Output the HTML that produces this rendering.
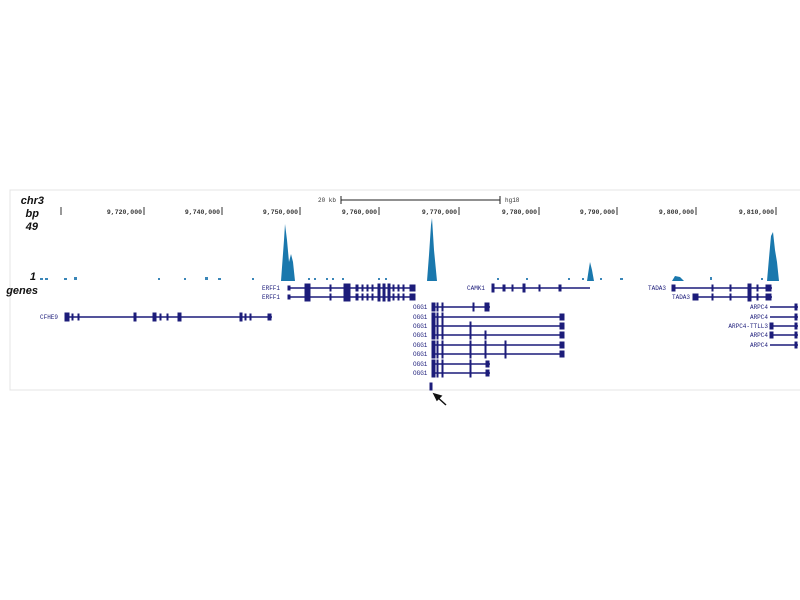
<!DOCTYPE html>
<html><head><style>
html,body{margin:0;padding:0;background:#fff;}
svg{display:block;}
text{font-family:"Liberation Mono",monospace;}
</style></head><body>
<svg width="800" height="600" viewBox="0 0 800 600" xmlns="http://www.w3.org/2000/svg">
<rect x="10" y="190" width="795" height="200" fill="none" stroke="#e4e4e4" stroke-width="1"/>
<g font-style="italic" font-weight="bold" font-size="11" text-anchor="end" fill="#111">
<text x="44" y="204" style="font-family:'Liberation Sans',sans-serif">chr3</text>
<text x="39" y="217" style="font-family:'Liberation Sans',sans-serif">bp</text>
<text x="38" y="230" style="font-family:'Liberation Sans',sans-serif">49</text>
<text x="36" y="280" style="font-family:'Liberation Sans',sans-serif">1</text>
<text x="38" y="294" style="font-family:'Liberation Sans',sans-serif">genes</text>
</g>
<g stroke="#222" stroke-width="1">
<line x1="341" y1="200" x2="500" y2="200"/><line x1="341" y1="196" x2="341" y2="204"/><line x1="500" y1="196" x2="500" y2="204"/>
</g>
<g font-size="6" fill="#333">
<text x="318" y="202">20 kb</text><text x="505" y="202">hg18</text>
</g>
<g font-size="6.5" fill="#333" text-anchor="end" font-weight="bold">
<text x="142" y="214">9,720,000</text><text x="220" y="214">9,740,000</text><text x="298" y="214">9,750,000</text>
<text x="377" y="214">9,760,000</text><text x="457" y="214">9,770,000</text><text x="537" y="214">9,780,000</text>
<text x="615" y="214">9,790,000</text><text x="694" y="214">9,800,000</text><text x="774" y="214">9,810,000</text>
</g>
<g stroke="#333" stroke-width="1">
<line x1="61" y1="207" x2="61" y2="215"/><line x1="144" y1="207" x2="144" y2="215"/><line x1="222" y1="207" x2="222" y2="215"/><line x1="300" y1="207" x2="300" y2="215"/><line x1="379" y1="207" x2="379" y2="215"/><line x1="459" y1="207" x2="459" y2="215"/><line x1="539" y1="207" x2="539" y2="215"/><line x1="617" y1="207" x2="617" y2="215"/><line x1="696" y1="207" x2="696" y2="215"/><line x1="776" y1="207" x2="776" y2="215"/>
</g>
<g fill="#1a78ad">
<path d="M281,281 L284,240 L285,224 L287,240 L289,262 L291,254 L293,262 L295,281 Z"/>
<path d="M427,281 L429,255 L431,225 L432,218 L434,250 L437,281 Z"/>
<path d="M587,281 L589,268 L590,262 L592,270 L594,281 Z"/>
<path d="M767,281 L769,258 L771,236 L773,232 L775,250 L777,262 L779,281 Z"/>
<path d="M672,281 L675,276 L680,277 L684,281 Z"/>
</g>
<g fill="#3a86b8">
<rect x="40" y="278" width="3" height="2"/><rect x="45" y="278" width="3" height="2"/><rect x="64" y="278" width="3" height="2"/><rect x="74" y="277" width="3" height="3"/><rect x="158" y="278" width="2" height="2"/><rect x="184" y="278" width="2" height="2"/><rect x="205" y="277" width="3" height="3"/><rect x="218" y="278" width="3" height="2"/><rect x="252" y="278" width="2" height="2"/><rect x="308" y="278" width="2" height="2"/><rect x="314" y="278" width="2" height="2"/><rect x="326" y="278" width="2" height="2"/><rect x="332" y="278" width="2" height="2"/><rect x="342" y="278" width="2" height="2"/><rect x="378" y="278" width="2" height="2"/><rect x="385" y="278" width="2" height="2"/><rect x="497" y="278" width="2" height="2"/><rect x="526" y="278" width="2" height="2"/><rect x="568" y="278" width="2" height="2"/><rect x="582" y="278" width="2" height="2"/><rect x="600" y="278" width="2" height="2"/><rect x="620" y="278" width="3" height="2"/><rect x="710" y="277" width="2" height="3"/><rect x="761" y="278" width="2" height="2"/>
</g>
<g stroke="#1c1c7a" fill="#1c1c7a" stroke-width="1.4">
<!-- ERFF1 -->
<line x1="288" y1="288" x2="415" y2="288"/><line x1="288" y1="297" x2="415" y2="297"/>
<g stroke-width="1">
<rect x="288" y="286" width="2" height="4"/><rect x="288" y="295" width="2" height="4"/>
<rect x="305" y="284" width="5" height="8"/><rect x="344" y="284" width="6" height="8"/><rect x="305" y="293" width="5" height="8"/><rect x="344" y="293" width="6" height="8"/>
<rect x="330" y="285" width="1" height="6"/><rect x="330" y="294" width="1" height="6"/>
<rect x="356" y="285" width="2" height="6"/><rect x="356" y="294" width="2" height="6"/>
<rect x="362" y="285" width="1" height="6"/><rect x="362" y="294" width="1" height="6"/>
<rect x="367" y="285" width="1" height="6"/><rect x="367" y="294" width="1" height="6"/>
<rect x="372" y="285" width="1" height="6"/><rect x="372" y="294" width="1" height="6"/>
<rect x="378" y="284" width="2" height="8"/><rect x="378" y="293" width="2" height="8"/>
<rect x="383" y="284" width="2" height="8"/><rect x="383" y="293" width="2" height="8"/>
<rect x="388" y="284" width="2" height="8"/><rect x="388" y="293" width="2" height="8"/>
<rect x="393" y="285" width="1" height="6"/><rect x="393" y="294" width="1" height="6"/>
<rect x="398" y="285" width="1" height="6"/><rect x="398" y="294" width="1" height="6"/>
<rect x="403" y="285" width="1" height="6"/><rect x="403" y="294" width="1" height="6"/>
<rect x="410" y="285" width="5" height="6"/><rect x="410" y="294" width="5" height="6"/>
</g>
<!-- CAMK1 -->
<line x1="492" y1="288" x2="590" y2="288"/>
<g stroke-width="1"><rect x="492" y="284" width="2" height="8"/><rect x="503" y="285" width="2" height="6"/><rect x="512" y="285" width="1" height="6"/><rect x="523" y="284" width="2" height="8"/><rect x="539" y="285" width="1" height="6"/><rect x="559" y="285" width="2" height="6"/></g>
<!-- TADA3 -->
<line x1="672" y1="288" x2="772" y2="288"/><line x1="693" y1="297" x2="772" y2="297"/>
<g stroke-width="1"><rect x="672" y="285" width="3" height="6"/><rect x="693" y="294" width="5" height="6"/><rect x="712" y="285" width="1" height="6"/><rect x="712" y="294" width="1" height="6"/><rect x="730" y="285" width="1" height="6"/><rect x="730" y="294" width="1" height="6"/><rect x="748" y="284" width="3" height="8"/><rect x="748" y="293" width="3" height="8"/><rect x="757" y="285" width="1" height="6"/><rect x="757" y="294" width="1" height="6"/><rect x="766" y="285" width="5" height="6"/><rect x="766" y="294" width="5" height="6"/></g>
<!-- CFHE9 -->
<line x1="65" y1="317" x2="272" y2="317"/>
<g stroke-width="1"><rect x="65" y="313" width="4" height="8"/><rect x="72" y="314" width="1" height="6"/><rect x="78" y="314" width="1" height="6"/><rect x="134" y="313" width="2" height="8"/><rect x="153" y="313" width="3" height="8"/><rect x="160" y="314" width="1" height="6"/><rect x="167" y="314" width="1" height="6"/><rect x="178" y="313" width="3" height="8"/><rect x="240" y="313" width="2" height="8"/><rect x="245" y="314" width="1" height="6"/><rect x="250" y="314" width="1" height="6"/><rect x="268" y="314" width="3" height="6"/></g>
<!-- OGG1 -->
<line x1="432" y1="307" x2="490" y2="307"/><line x1="432" y1="317" x2="564" y2="317"/><line x1="432" y1="326" x2="564" y2="326"/><line x1="432" y1="335" x2="564" y2="335"/><line x1="432" y1="345" x2="564" y2="345"/><line x1="432" y1="354" x2="564" y2="354"/><line x1="432" y1="364" x2="490" y2="364"/><line x1="432" y1="373" x2="490" y2="373"/>
<g stroke-width="1">
<rect x="432" y="303" width="3" height="8"/><rect x="432" y="313" width="3" height="8"/><rect x="432" y="322" width="3" height="8"/><rect x="432" y="331" width="3" height="8"/><rect x="432" y="341" width="3" height="8"/><rect x="432" y="350" width="3" height="8"/><rect x="432" y="360" width="3" height="8"/><rect x="432" y="369" width="3" height="8"/>
<rect x="437" y="303" width="1" height="8"/><rect x="437" y="313" width="1" height="8"/><rect x="437" y="322" width="1" height="8"/><rect x="437" y="331" width="1" height="8"/><rect x="437" y="341" width="1" height="8"/><rect x="437" y="350" width="1" height="8"/><rect x="437" y="360" width="1" height="8"/><rect x="437" y="369" width="1" height="8"/>
<rect x="442" y="303" width="1" height="8"/><rect x="442" y="313" width="1" height="8"/><rect x="442" y="322" width="1" height="8"/><rect x="442" y="331" width="1" height="8"/><rect x="442" y="341" width="1" height="8"/><rect x="442" y="350" width="1" height="8"/><rect x="442" y="360" width="1" height="8"/><rect x="442" y="369" width="1" height="8"/>
<rect x="473" y="303" width="1" height="8"/>
<rect x="485" y="303" width="4" height="8"/><rect x="560" y="314" width="4" height="6"/><rect x="560" y="323" width="4" height="6"/><rect x="560" y="332" width="4" height="6"/><rect x="560" y="342" width="4" height="6"/><rect x="560" y="351" width="4" height="6"/><rect x="486" y="361" width="3" height="6"/><rect x="486" y="370" width="3" height="6"/>
<rect x="470" y="322" width="1" height="8"/><rect x="470" y="331" width="1" height="8"/><rect x="470" y="341" width="1" height="8"/><rect x="470" y="350" width="1" height="8"/><rect x="470" y="360" width="1" height="8"/><rect x="470" y="369" width="1" height="8"/>
<rect x="485" y="331" width="1" height="8"/><rect x="485" y="341" width="1" height="8"/><rect x="485" y="350" width="1" height="8"/>
<rect x="505" y="341" width="1" height="8"/><rect x="505" y="350" width="1" height="8"/>
</g>
<!-- ARPC4 -->
<line x1="770" y1="307" x2="798" y2="307"/><line x1="770" y1="317" x2="798" y2="317"/><line x1="770" y1="326" x2="798" y2="326"/><line x1="770" y1="335" x2="798" y2="335"/><line x1="770" y1="345" x2="798" y2="345"/>
<g stroke-width="1"><rect x="770" y="323" width="3" height="6"/><rect x="770" y="332" width="3" height="6"/>
<rect x="795" y="304" width="2" height="6"/><rect x="795" y="314" width="2" height="6"/><rect x="795" y="323" width="2" height="6"/><rect x="795" y="332" width="2" height="6"/><rect x="795" y="342" width="2" height="6"/></g>
<rect x="430" y="383" width="2" height="7" stroke-width="1"/>
</g>
<g stroke="#111" stroke-width="1.5" fill="#111">
<line x1="446" y1="405" x2="436" y2="396"/><path d="M434,394 L441,396 L437,400 Z"/>
</g>
<g font-size="6" fill="#1c1c7a">
<text x="262" y="290">ERFF1</text><text x="262" y="299">ERFF1</text>
<text x="467" y="290">CAMK1</text><text x="648" y="290">TADA3</text><text x="672" y="299">TADA3</text>
<text x="40" y="319">CFHE9</text>
<text x="413" y="309">OGG1</text><text x="413" y="319">OGG1</text><text x="413" y="328">OGG1</text><text x="413" y="337">OGG1</text><text x="413" y="347">OGG1</text><text x="413" y="356">OGG1</text><text x="413" y="366">OGG1</text><text x="413" y="375">OGG1</text>
<g text-anchor="end"><text x="768" y="309">ARPC4</text><text x="768" y="319">ARPC4</text><text x="768" y="328">ARPC4-TTLL3</text><text x="768" y="337">ARPC4</text><text x="768" y="347">ARPC4</text></g>
</g>
</svg>
</body></html>
